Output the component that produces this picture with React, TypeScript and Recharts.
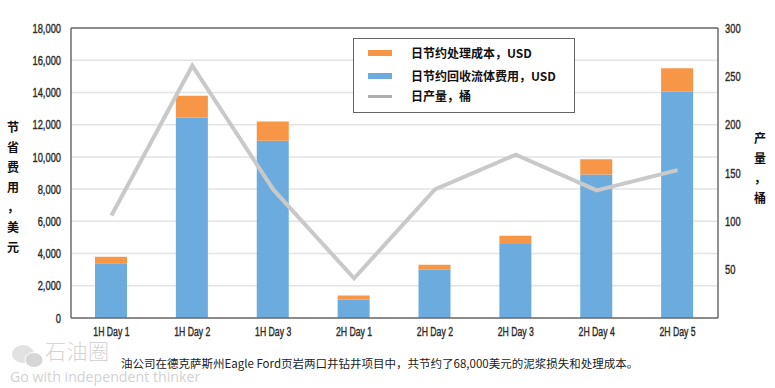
import React from "react";
import { ComposedChart, Bar, Line, XAxis, YAxis, CartesianGrid, ReferenceLine } from "recharts";

const categories = ["1H Day 1", "1H Day 2", "1H Day 3", "2H Day 1", "2H Day 2", "2H Day 3", "2H Day 4", "2H Day 5"];
const fluidCost = [3400, 12450, 11000, 1150, 3000, 4600, 8900, 14050];
const treatmentCost = [400, 1350, 1200, 250, 300, 500, 950, 1450];
const production = [106, 261, 133, 41, 133, 169, 132, 153];
const leftTicks = [0, 2000, 4000, 6000, 8000, 10000, 12000, 14000, 16000, 18000];
const rightTicks = [50, 100, 150, 200, 250, 300];

const treatmentName = "日节约处理成本，USD";
const fluidName = "日节约回收流体费用，USD";
const productionName = "日产量，桶";
const leftTitle = ["节", "省", "费", "用", "，", "美", "元"];
const rightTitle = ["产", "量", "，", "桶"];
const caption = "油公司在德克萨斯州Eagle Ford页岩两口井钻井项目中，共节约了68,000美元的泥浆损失和处理成本。";

const data = categories.map((category, i) => ({
  category,
  fluid: fluidCost[i],
  treatment: treatmentCost[i],
  production: production[i],
}));

const CJK = '"Noto Sans CJK SC", "Noto Sans", sans-serif';
const AXIS = "#6b6b6b";

const abs = (left: number, top: number): React.CSSProperties => ({ position: "absolute", left, top });

function NarrowTick(props: any) {
  const { x, y, payload, textAnchor, tickFormatter } = props;
  const label = tickFormatter ? tickFormatter(payload.value) : String(payload.value);
  const narrow = (label.match(/[, ]/g) || []).length;
  return (
    <text
      x={x}
      y={y}
      dy="0.36em"
      textAnchor={textAnchor}
      fontFamily='"Liberation Sans", sans-serif'
      fontSize={13}
      fill="#2b2b2b"
      stroke="#2b2b2b"
      strokeWidth={0.4}
      textLength={(label.length - narrow) * 5.2 + narrow * 2.5}
      lengthAdjust="spacingAndGlyphs"
    >
      {label}
    </text>
  );
}

function Swatch({ top, color, height }: { top: number; color: string; height: number }) {
  return <div style={{ ...abs(14, top), width: 24, height, background: color }} />;
}

function LegendBox() {
  const rowStyle: React.CSSProperties = { position: "absolute", left: 57, fontFamily: CJK, fontSize: 12, fontWeight: 700, color: "#111", whiteSpace: "nowrap", lineHeight: "16px" };
  return (
    <div style={{ ...abs(353, 38), width: 220, height: 73, border: "1.5px solid #666", background: "#fff" }}>
      <Swatch top={11} color="#f79646" height={6} />
      <div style={{ ...rowStyle, top: 6 }}>{treatmentName}</div>
      <Swatch top={34} color="#6cabdd" height={6} />
      <div style={{ ...rowStyle, top: 29 }}>{fluidName}</div>
      <Swatch top={56} color="#b0b0b0" height={3} />
      <div style={{ ...rowStyle, top: 49 }}>{productionName}</div>
    </div>
  );
}

function VerticalTitle({ chars, left, top, gap }: { chars: string[]; left: number; top: number; gap: number }) {
  return (
    <div style={{ ...abs(left, top), width: 14, fontFamily: CJK, fontSize: 12, fontWeight: 700, color: "#111", textAlign: "center", lineHeight: `${gap}px` }}>
      {chars.map((c, i) => <div key={i}>{c}</div>)}
    </div>
  );
}

function Watermark() {
  return (
    <>
      <svg style={abs(10, 344)} width={34} height={26}>
        <ellipse cx={13} cy={10} rx={11} ry={9} fill="#e2e2e2" />
        <ellipse cx={24} cy={16} rx={9} ry={7.5} fill="#d6d6d6" stroke="#fff" />
      </svg>
      <div style={{ ...abs(45, 338), fontFamily: CJK, fontSize: 21, color: "#d4d4d4", letterSpacing: 0.5, lineHeight: "24px", whiteSpace: "nowrap", fontWeight: 300 }}>石油圈</div>
      <div style={{ ...abs(10, 368), fontFamily: '"Open Sans", sans-serif', fontSize: 14.2, color: "#d2d2d2", lineHeight: "18px", whiteSpace: "nowrap" }}>Go with independent thinker</div>
    </>
  );
}

export default function App() {
  return (
    <div style={{ position: "absolute", left: 0, top: 0, width: 775, height: 388, background: "#fff", overflow: "hidden" }}>
      <ComposedChart width={775} height={388} data={data} margin={{ top: 28, right: 0, bottom: 40, left: 0 }}>
        <CartesianGrid yAxisId="left" vertical={false} stroke="#e3e3e3" strokeWidth={1.5} />
        <XAxis dataKey="category" height={30} axisLine={{ stroke: AXIS, strokeWidth: 1.5 }} tickLine={false} tick={<NarrowTick />} tickMargin={7} interval={0} />
        <YAxis yAxisId="left" domain={[0, 18000]} ticks={leftTicks} width={71} axisLine={{ stroke: AXIS, strokeWidth: 1.5 }} tickLine={false} tick={<NarrowTick />} tickMargin={4} tickFormatter={(v: number) => v.toLocaleString("en-US")} />
        <YAxis yAxisId="right" orientation="right" domain={[0, 300]} ticks={rightTicks} width={57} axisLine={{ stroke: AXIS, strokeWidth: 1.5 }} tickLine={false} tick={<NarrowTick />} tickMargin={1} />
        <ReferenceLine yAxisId="left" y={18000} stroke={AXIS} strokeWidth={1.5} />
        <Bar yAxisId="left" dataKey="fluid" stackId="a" fill="#6cabdd" barSize={32} isAnimationActive={false} />
        <Bar yAxisId="left" dataKey="treatment" stackId="a" fill="#f79646" barSize={32} isAnimationActive={false} />
        <Line yAxisId="right" type="linear" dataKey="production" stroke="#c9c9c9" strokeWidth={4} dot={false} activeDot={false} isAnimationActive={false} />
      </ComposedChart>
      <LegendBox />
      <VerticalTitle chars={leftTitle} left={6} top={117} gap={20} />
      <VerticalTitle chars={rightTitle} left={753} top={128} gap={20} />
      <Watermark />
      <div style={{ ...abs(121, 354), fontFamily: CJK, fontSize: 11.5, color: "#222", lineHeight: "18px", whiteSpace: "nowrap" }}>{caption}</div>
    </div>
  );
}
